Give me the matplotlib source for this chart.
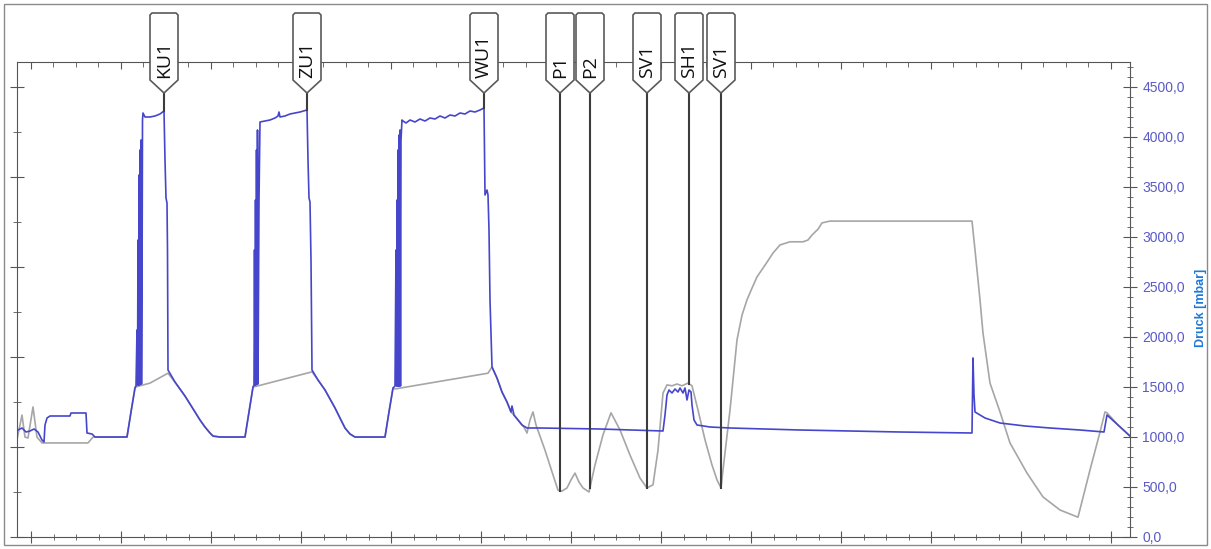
import matplotlib
matplotlib.use("Agg")
import matplotlib.pyplot as plt
import matplotlib.transforms as mtransforms
from matplotlib.patches import Polygon, Rectangle
from matplotlib.lines import Line2D
from matplotlib.ticker import MultipleLocator, FuncFormatter
import numpy as np

# ----------------------------------
# Data (time in s, pressure in mbar, temperature in degC)
# ----------------------------------

press_t = [
    -130, -90, -50, -10, 30, 70, 110, 130, 140, 160, 190, 390, 400, 550, 560, 610, 640, 960,
    1000, 1040, 1050, 1060, 1065, 1070, 1075, 1080, 1085, 1090, 1095, 1100, 1105, 1110, 1115,
    1120, 1140, 1190, 1240, 1290, 1330, 1340, 1350, 1360, 1365, 1370, 1440, 1540, 1590, 1640,
    1690, 1740, 1790, 1820, 1890, 2140,
    2180, 2220, 2230, 2235, 2240, 2245, 2250, 2255, 2260, 2265, 2270, 2280, 2290, 2340, 2390,
    2440, 2470, 2480, 2490, 2540, 2590, 2640, 2690, 2760, 2770, 2780, 2790, 2800, 2810, 2870,
    2940, 3040, 3090, 3140, 3190, 3240, 3540,
    3580, 3620, 3640, 3650, 3655, 3660, 3665, 3670, 3675, 3680, 3685, 3690, 3695, 3700, 3710,
    3720, 3750, 3790, 3840, 3890, 3940, 3990, 4040, 4090, 4140, 4190, 4240, 4290, 4340, 4390,
    4440, 4490, 4530, 4540, 4560, 4570, 4580, 4590, 4610, 4660, 4710, 4760, 4800, 4810, 4830,
    4870, 4910, 4960, 5090, 5690, 6320,
    6340, 6360, 6380, 6410, 6440, 6470, 6490, 6520, 6540, 6560, 6580, 6600, 6610, 6630, 6660,
    6790, 6990, 7690, 8690, 9410, 9420, 9430, 9440, 9540, 9690, 9940, 10190, 10490, 10730,
    10760, 10870, 10990,
]

press_v = [
    1070, 1090, 1050, 1060, 1080, 1050, 970, 950, 1120, 1190, 1210, 1210, 1240, 1240, 1040, 1030, 1000, 1000,
    1250, 1490, 1510, 2070, 1520, 2970, 1520, 3620, 1520, 3870, 1530, 3970, 1530, 2370, 4170,
    4240, 4200, 4200, 4210, 4230, 4260, 3770, 3390, 3340, 2870, 1670, 1550, 1410, 1330, 1250,
    1170, 1100, 1040, 1010, 1000, 1000,
    1250, 1500, 1520, 2870, 1520, 3370, 1520, 3870, 1530, 4070, 1530, 3370, 4150, 4160, 4170,
    4190, 4210, 4250, 4200, 4210, 4230, 4240, 4250, 4270, 3770, 3390, 3350, 2770, 1670, 1570,
    1470, 1290, 1190, 1090, 1030, 1000, 1000,
    1250, 1490, 1510, 2870, 1510, 3370, 1510, 3870, 1510, 4020, 1510, 4070, 1510, 3970, 4170,
    4160, 4140, 4170, 4150, 4180, 4160, 4190, 4180, 4210, 4190, 4220, 4210, 4240, 4230, 4260,
    4250, 4270, 4290, 3420, 3470, 3420, 3070, 2370, 1700, 1590, 1450, 1350, 1250, 1310, 1220,
    1170, 1120, 1090, 1090, 1080, 1060,
    1220, 1420, 1470, 1440, 1480, 1450, 1490, 1440, 1490, 1370, 1470, 1450, 1320, 1170, 1120,
    1100, 1090, 1070, 1050, 1040, 1790, 1420, 1250, 1190, 1140, 1110, 1090, 1070, 1050,
    1220, 1120, 1010,
]

temp_t = [
    -140, -90, -60, -30, 20, 60, 110, 570, 620, 960,
    1000, 1040, 1190, 1370, 1440, 1540, 1640, 1690, 1740, 1790, 1820, 1890, 2140,
    2180, 2220, 2810, 2870, 2940, 3040, 3090, 3140, 3190, 3240, 3540,
    3580, 3620, 3640, 4570, 4610, 4660, 4710, 4760, 4800, 4870, 4930, 4960,
    4990, 5020, 5050, 5140, 5220, 5270, 5310, 5360, 5400, 5440, 5480, 5520, 5580,
    5640, 5720, 5800, 5890, 5990, 6090, 6160, 6220, 6270, 6320, 6360, 6410, 6460,
    6510, 6570, 6610, 6670, 6740, 6810, 6860, 6900,
    6920, 6990, 7060, 7110, 7160, 7210, 7260, 7340, 7420, 7490, 7590, 7720, 7770,
    7810, 7870, 7910, 7990, 8690, 9410,
    9440, 9490, 9520, 9590, 9690, 9790, 9960, 10120, 10290, 10470, 10590, 10690,
    10740, 10760, 10870, 10990,
]

temp_v = [
    21.6, 27.1, 22.2, 22.0, 28.9, 22.2, 20.9, 20.9, 22.2, 22.2,
    27.8, 33.3, 34.2, 36.4, 34.4, 31.3, 27.8, 26.0, 24.4, 23.1, 22.4, 22.2, 22.2,
    27.8, 33.3, 36.7, 34.9, 32.7, 28.7, 26.4, 24.2, 22.9, 22.2, 22.2,
    27.8, 33.1, 32.9, 36.4, 37.8, 35.3, 32.2, 30.0, 27.8, 26.0, 24.4, 23.1,
    26.0, 27.8, 24.9, 19.3, 13.8, 10.4, 10.2, 10.9, 12.7, 14.2, 12.2, 10.9, 10.0,
    16.0, 22.7, 27.6, 23.8, 18.2, 13.1, 10.9, 11.6, 19.3, 32.0, 33.8, 33.6, 34.0,
    33.6, 34.2, 33.6, 28.2, 21.6, 16.0, 12.7, 10.9,
    14.9, 28.2, 43.8, 49.3, 52.7, 55.3, 57.8, 60.4, 63.1, 64.9, 65.6, 65.6, 66.0,
    67.1, 68.4, 69.8, 70.2, 70.2, 70.2,
    63.8, 52.7, 45.3, 34.2, 27.8, 20.9, 14.2, 8.9, 6.0, 4.4, 14.9, 23.3,
    27.8, 27.6, 24.9, 22.4,
]

# event markers: label, time, curve the line drops to
marker_names = ["KU1", "ZU1", "WU1", "P1", "P2", "SV1", "SH1", "SV1"]
marker_t = [1330, 2760, 4530, 5290, 5590, 6160, 6580, 6900]
marker_curve = ["p", "p", "p", "T", "T", "T", "T", "T"]

# ----------------------------------
# Figure / axes
# ----------------------------------

W, H = 1211, 549
fig = plt.figure(figsize=(W / 100, H / 100), dpi=100, facecolor="white")

left_px, right_px, top_px, bottom_px = 17, 1130, 62, 537
ax = fig.add_axes([
    left_px / W,
    (H - bottom_px) / H,
    (right_px - left_px) / W,
    (bottom_px - top_px) / H,
])
ax2 = ax.twinx()

ax.set_xlim(-140, 10990)
ax.set_ylim(0, 475 / 4.5)
ax2.set_ylim(0, 4750)

spine_col = "#555555"

ax.plot(temp_t, temp_v, color="#a6a6a6", lw=1.2, zorder=2)
ax2.plot(press_t, press_v, color="#4646cc", lw=1.2, zorder=3)

# ----------------------------------
# Spines and ticks
# ----------------------------------

for s in ["left", "bottom", "top"]:
    ax.spines[s].set_color(spine_col)
ax.spines["right"].set_visible(False)
for s in ["left", "bottom", "top"]:
    ax2.spines[s].set_visible(False)
ax2.spines["right"].set_color(spine_col)

ax.xaxis.set_major_locator(MultipleLocator(900))
ax.xaxis.set_minor_locator(MultipleLocator(225))
ax.yaxis.set_major_locator(MultipleLocator(20))
ax.yaxis.set_minor_locator(MultipleLocator(10))

ax.tick_params(axis="x", which="major", direction="inout", length=8,
               color=spine_col, labelbottom=False)
ax.tick_params(axis="x", which="minor", direction="inout", length=4,
               color=spine_col)
ax.tick_params(axis="y", which="major", direction="inout", length=10,
               color=spine_col, labelleft=False)
ax.tick_params(axis="y", which="minor", direction="inout", length=6,
               color=spine_col)

# top ticks through the twin's x axis
ax2.xaxis.set_visible(True)
ax2.tick_params(axis="x", which="both", bottom=False, top=True,
                labelbottom=False, labeltop=False, direction="in",
                color=spine_col)
ax2.tick_params(axis="x", which="major", length=5)
ax2.tick_params(axis="x", which="minor", length=3.5)

ax2.yaxis.set_major_locator(MultipleLocator(500))
ax2.yaxis.set_minor_locator(MultipleLocator(100))
ax2.yaxis.set_major_formatter(FuncFormatter(lambda v, pos: f"{v:.1f}".replace(".", ",")))
ax2.tick_params(axis="y", which="major", direction="inout", length=10,
                color=spine_col, labelcolor="#5a5ac8", labelsize=10, pad=4)
ax2.tick_params(axis="y", which="minor", direction="inout", length=4.5,
                color=spine_col)
for lab in ax2.get_yticklabels():
    lab.set_fontfamily("Liberation Sans")

fig.text(1201 / W, 1 - 308 / H, "Druck [mbar]", rotation=90,
         ha="center", va="center", color="#1f78d8", fontsize=9,
         fontweight="bold", family="Liberation Sans")

# ----------------------------------
# Event markers
# ----------------------------------

top_disp = ax.transAxes.transform((0, 1))[1]
ident = mtransforms.IdentityTransform()

shape = [(-14, -18), (-14, 47), (-12, 49), (12, 49), (14, 47), (14, -18), (0, -31)]

for name, t, curve in zip(marker_names, marker_t, marker_curve):
    xd = ax.transData.transform((t, 0))[0]
    if curve == "p":
        yend = ax2.transData.transform((t, np.interp(t, press_t, press_v)))[1]
    else:
        yend = ax.transData.transform((t, np.interp(t, temp_t, temp_v)))[1]

    fig.add_artist(Line2D([xd, xd], [yend, top_disp - 31],
                          color="#3c3c3c", lw=1.5, transform=ident, zorder=4))
    fig.add_artist(Polygon([(xd + dx, top_disp + dy) for dx, dy in shape],
                           closed=True, facecolor="white", edgecolor="#5a5a5a",
                           lw=1.2, transform=ident, zorder=5))
    fig.text(xd / W, (top_disp - 16) / H, name, rotation=90,
             ha="center", va="bottom", fontsize=14, color="#111111",
             family="Open Sans", zorder=6)

# outer frame
fig.add_artist(Rectangle((4 / W, 4 / H), 1203 / W, 541 / H, fill=False,
                         edgecolor="#8a8a8a", lw=1, transform=fig.transFigure))

plt.savefig("out.png", dpi=100)
